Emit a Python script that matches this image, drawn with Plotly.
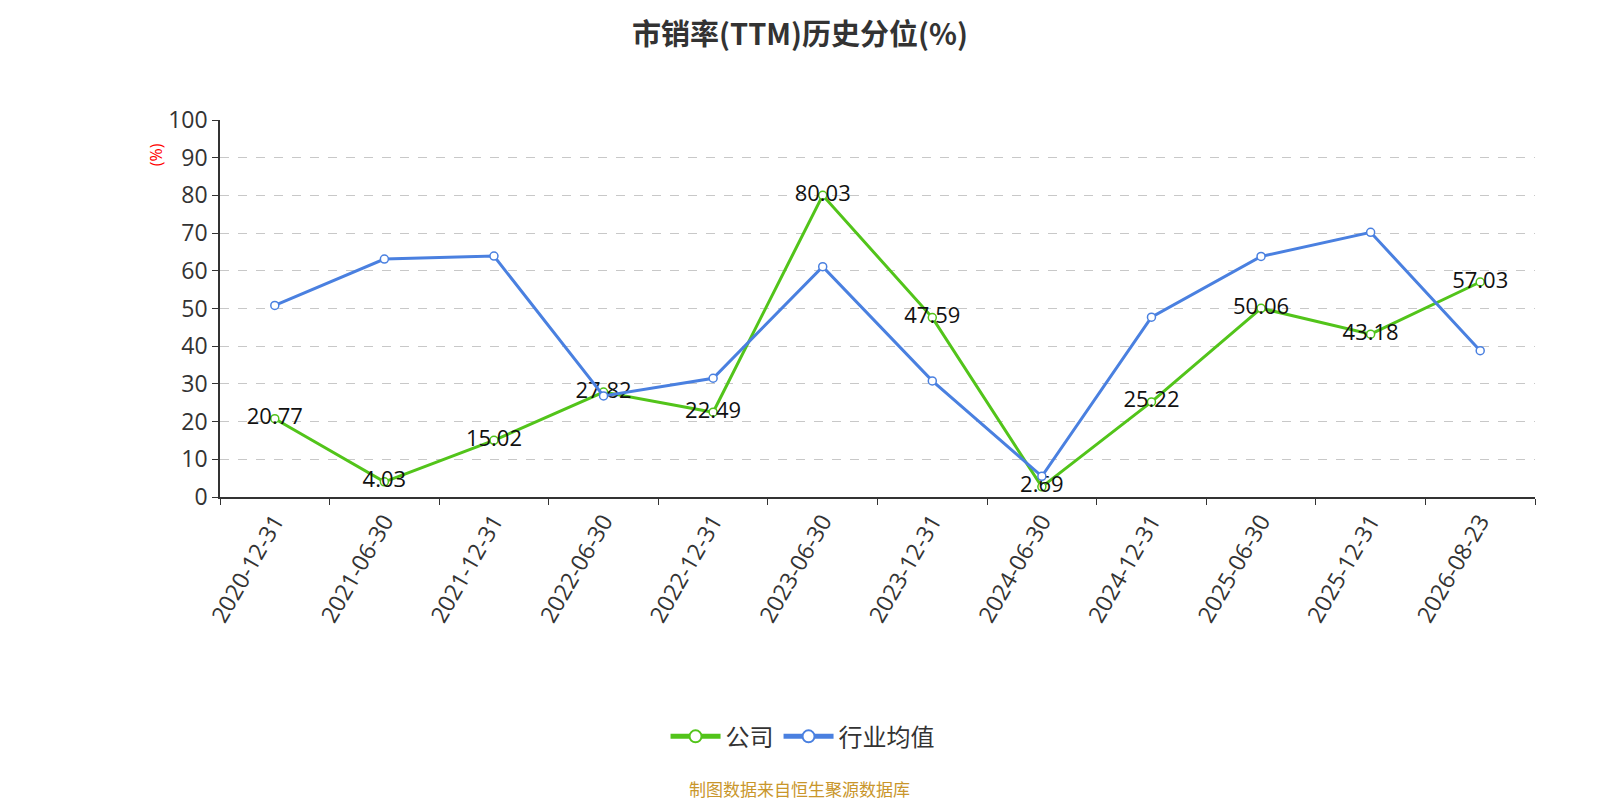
import plotly.graph_objects as go

dates = ["2020-12-31", "2021-06-30", "2021-12-31", "2022-06-30", "2022-12-31", "2023-06-30",
         "2023-12-31", "2024-06-30", "2024-12-31", "2025-06-30", "2025-12-31", "2026-08-23"]
company = [20.77, 4.03, 15.02, 27.82, 22.49, 80.03, 47.59, 2.69, 25.22, 50.06, 43.18, 57.03]
industry = [50.8, 63.1, 63.9, 26.8, 31.5, 61.1, 30.8, 5.5, 47.7, 63.8, 70.2, 38.8]

font = "Open Sans, Noto Sans CJK SC"
cjk = "Noto Sans CJK SC"
green = "#52c41a"
blue = "#4a80e0"

fig = go.Figure()
fig.add_trace(go.Scatter(
    x=dates, y=company, name="公司", mode="lines+markers+text",
    line=dict(color=green, width=3),
    marker=dict(symbol="circle", size=8, color="white", line=dict(color=green, width=1.5)),
    text=[f"{v:.2f}" for v in company], textposition="middle center",
    textfont=dict(size=22, color="#111", family=font),
))
fig.add_trace(go.Scatter(
    x=dates, y=industry, name="行业均值", mode="lines+markers",
    line=dict(color=blue, width=3),
    marker=dict(symbol="circle", size=8, color="white", line=dict(color=blue, width=1.5)),
))

fig.update_layout(
    width=1600, height=800,
    paper_bgcolor="white", plot_bgcolor="white",
    margin=dict(l=212, r=73, t=112, b=311),
    font=dict(family=font, color="#333"),
    title=dict(text="<b>市销率(TTM)历史分位(%)</b>", x=0.495, xanchor="center", y=0.966,
               yanchor="middle", font=dict(size=29, color="#333", family=cjk)),
    showlegend=True,
    legend=dict(orientation="h", x=0.443, xanchor="center", y=-0.636, yanchor="middle",
                itemsizing="constant", itemwidth=50,
                font=dict(size=24, color="#333", family=cjk)),
    xaxis=dict(type="category", range=[-0.5, 11.5], tickson="boundaries",
               ticks="outside", ticklen=6, tickcolor="#333", tickangle=-60,
               showline=True, linecolor="#333", linewidth=1.5, showgrid=False,
               tickfont=dict(size=23, color="#333", family=font)),
    yaxis=dict(range=[0, 100], dtick=10, ticks="outside", ticklen=6, tickcolor="#333",
               showline=True, linecolor="#333", linewidth=1.5, zeroline=False,
               showgrid=True, gridcolor="#c8c8c8", griddash="dash", gridwidth=1.2,
               tickfont=dict(size=23, color="#333", family=font)),
    annotations=[
        dict(text="(%)", xref="paper", yref="paper", x=-0.049, y=0.908, textangle=-90,
             xanchor="center", yanchor="middle",
             showarrow=False, font=dict(size=16, color="red", family=font)),
        dict(text="制图数据来自恒生聚源数据库", xref="paper", yref="paper", x=0.441,
             y=-0.772, xanchor="center", yanchor="middle", showarrow=False,
             font=dict(size=17, color="#c9962b", family=cjk)),
    ],
)

fig.write_html("out.html")
